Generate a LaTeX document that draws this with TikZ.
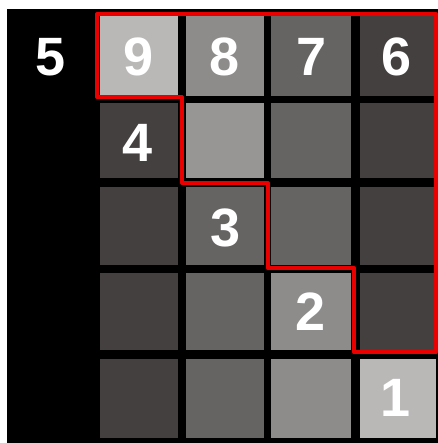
\documentclass[tikz,border=0pt]{standalone}
\usepackage{fontspec}
\setmainfont{Liberation Sans}
\definecolor{cA}{RGB}{186,183,183}
\definecolor{cB}{RGB}{142,139,139}
\definecolor{cC}{RGB}{102,99,99}
\definecolor{cD}{RGB}{68,64,64}
\definecolor{cE}{RGB}{152,149,149}
\definecolor{redline}{RGB}{235,0,0}
\tikzset{
  cell/.style={draw=none, inner sep=0pt, anchor=north west},
  num/.style={text=white, font=\fontsize{54}{54}\selectfont\bfseries, inner sep=0pt},
}
\begin{document}
\begin{tikzpicture}[x=1pt,y=-1pt]
\useasboundingbox (0,0) rectangle (437,443);
\fill[black] (7,9) rectangle (440,446);
% columns: 100-178, 186-264, 271-351, 360-437 ; rows: 16-96, 103-178, 187-265, 273-350, 359-438
\foreach \r/\ya/\yb [count=\i] in {1/16/96, 2/103/178, 3/187/265, 4/273/350, 5/359/438}{
  \foreach \c/\xa/\xb in {1/100/178, 2/186/264, 3/271/351, 4/360/436}{
    \coordinate (p\r\c) at (\xa,\ya);
    \coordinate (q\r\c) at (\xb,\yb);
  }
}
% row 1
\fill[cA] (p11) rectangle (q11);
\fill[cB] (p12) rectangle (q12);
\fill[cC] (p13) rectangle (q13);
\fill[cD] (p14) rectangle (q14);
% row 2
\fill[cD] (p21) rectangle (q21);
\fill[cE] (p22) rectangle (q22);
\fill[cC] (p23) rectangle (q23);
\fill[cD] (p24) rectangle (q24);
% row 3
\fill[cD] (p31) rectangle (q31);
\fill[cC] (p32) rectangle (q32);
\fill[cC] (p33) rectangle (q33);
\fill[cD] (p34) rectangle (q34);
% row 4
\fill[cD] (p41) rectangle (q41);
\fill[cC] (p42) rectangle (q42);
\fill[cB] (p43) rectangle (q43);
\fill[cD] (p44) rectangle (q44);
% row 5
\fill[cD] (p51) rectangle (q51);
\fill[cC] (p52) rectangle (q52);
\fill[cB] (p53) rectangle (q53);
\fill[cA] (p54) rectangle (q54);
% numbers
\node[num] (n5) at (51,57) {5};
\node[num] (n9) at (139,57) {9};
\node[num] (n8) at (225,57) {8};
\node[num] (n7) at (312,57) {7};
\node[num] (n6) at (397,57) {6};
\node[num] (n4) at (138,143) {4};
\node[num] (n3) at (226,228) {3};
\node[num] (n2) at (311,312) {2};
\node[num] (n1) at (396,398) {1};
% red staircase
\draw[redline, line width=4pt, line join=round]
  (97,97) -- (97,14) -- (436,14) -- (436,352) -- (354,352) -- (354,268)
  -- (268,268) -- (268,183) -- (182,183) -- (182,97) -- cycle;
\end{tikzpicture}
\end{document}
